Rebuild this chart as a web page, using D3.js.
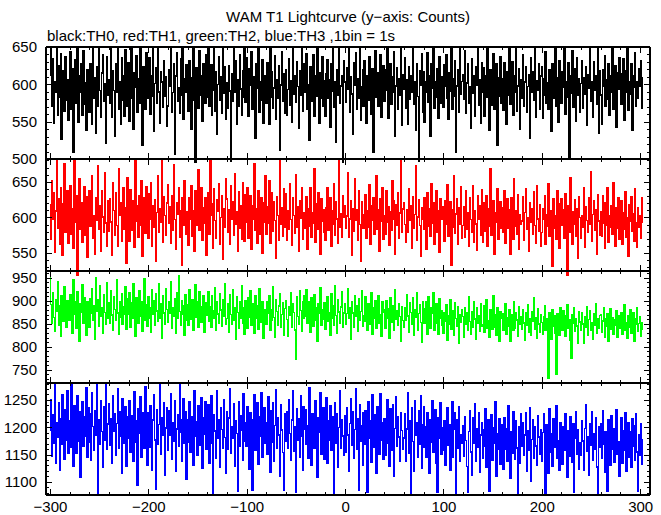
<!DOCTYPE html>
<html><head><meta charset="utf-8">
<script src="https://cdn.jsdelivr.net/npm/d3@7"></script>
<style>body{margin:0;background:#fff}</style>
</head><body><svg id="c" width="661" height="515"></svg>
<script>
// first bin time (s), 1 bin = 1 s
const timeStart = -300;

const th0 = [
612,655,571,634,548,603,590,668,559,625,583,641,527,596,618,564,637,579,606,552,
587,643,566,621,509,598,633,575,661,549,612,590,627,558,645,573,602,538,619,596,
562,628,594,547,652,581,609,534,623,570,687,592,556,615,640,578,601,521,637,585,
606,574,649,556,618,592,531,627,589,663,567,604,546,635,579,612,557,646,594,570,
629,551,603,677,582,540,615,596,638,563,607,574,655,588,519,624,599,566,642,581,
593,636,560,612,584,649,537,601,622,575,658,590,548,617,603,569,631,584,610,544,
571,620,598,655,563,589,628,507,611,642,577,596,561,634,585,672,553,608,590,626,
615,564,631,588,540,609,653,579,496,622,597,568,645,586,612,550,628,601,575,639,
583,647,570,604,626,558,592,681,564,617,533,600,637,579,610,561,648,588,624,553,
602,568,625,591,497,614,578,656,589,632,547,606,571,640,594,559,618,583,662,576,
636,590,557,621,599,644,566,610,585,528,627,595,650,563,604,579,633,548,612,589,
574,629,601,546,659,583,617,568,595,638,553,606,582,625,512,599,643,577,614,561,
620,558,593,634,572,605,549,666,587,611,576,630,597,541,618,585,653,564,603,627,
589,641,566,600,525,623,596,578,639,557,612,584,671,593,548,616,581,637,570,605,
557,614,633,582,606,543,627,591,648,569,603,522,619,585,657,574,598,611,495,632,
603,576,622,594,651,562,610,587,533,629,599,642,566,608,581,664,552,597,620,571,
631,586,548,612,579,637,598,560,621,509,606,645,583,616,570,594,639,556,602,625,
577,619,592,663,554,601,628,573,610,589,644,531,598,622,567,607,585,652,545,613,
594,635,568,606,547,624,580,612,590,656,573,603,539,627,584,497,618,599,641,562,
617,549,603,589,642,576,611,530,628,595,660,568,604,583,621,555,637,592,575,610,
569,626,598,639,582,553,616,591,674,566,607,584,632,509,598,620,563,649,587,604,
613,580,645,561,602,627,575,597,541,634,588,612,557,623,599,666,572,606,548,629,
590,622,557,611,583,650,596,538,619,572,604,641,566,593,627,519,609,584,637,575,
608,565,629,594,547,617,585,655,573,602,630,558,612,589,676,564,598,621,540,606,
582,640,571,603,624,562,597,613,528,635,590,617,579,648,556,605,592,627,567,611,
623,554,608,586,643,575,602,566,620,594,537,628,601,582,661,571,609,549,632,590,
575,617,596,652,560,604,583,629,501,612,588,645,569,598,621,551,636,585,607,563,
601,632,568,609,587,624,545,613,595,668,578,603,556,630,592,612,573,647,534,618,
586,547,620,597,638,571,606,580,627,559,611,589,653,567,600,625,543,615,594,636,
614,573,599,634,552,618,590,662,565,604,587,627,539,611,596,642,570,603,581,621,
597,632,568,609
];

const th1 = [
618,570,652,597,634,551,609,683,585,626,562,641,598,547,619,676,580,605,637,564,
599,645,576,612,557,688,593,630,518,608,654,583,620,566,602,643,575,629,544,611,
637,588,614,659,571,603,548,627,596,672,583,616,553,638,601,579,663,592,560,624,
581,626,594,547,649,610,575,635,589,559,668,603,621,567,598,642,584,613,536,656,
612,567,639,601,582,624,558,680,595,617,572,631,589,651,546,606,627,578,643,594,
571,633,598,649,560,616,587,625,539,607,659,580,612,594,685,566,629,603,575,620,
646,592,615,564,631,582,674,597,556,621,604,641,573,610,533,628,589,652,600,577,
608,561,627,598,645,574,610,553,637,589,619,667,582,603,641,568,614,592,628,547,
589,634,577,684,603,619,557,640,596,571,625,609,648,562,600,631,542,612,587,655,
626,580,611,563,645,598,622,575,661,591,608,553,636,585,617,570,649,600,567,632,
594,642,571,608,630,555,616,598,675,582,612,564,638,601,577,627,550,620,594,658,
577,615,592,651,564,606,635,581,622,596,543,629,603,568,686,590,613,574,640,587,
633,568,609,584,647,597,561,628,603,578,660,587,615,552,624,599,641,570,606,585,
601,629,556,612,588,642,573,606,592,669,565,619,583,634,598,549,626,595,611,579,
568,614,641,582,603,627,559,610,590,647,575,622,598,564,679,587,605,573,631,601,
617,585,602,663,572,598,624,547,612,581,655,596,611,568,637,590,539,622,604,585,
590,632,571,609,587,646,563,617,596,628,577,603,659,584,611,552,626,595,641,570,
602,576,637,594,615,561,608,582,652,597,624,548,618,589,634,571,606,684,580,612,
621,590,566,611,579,640,596,617,557,629,585,604,673,568,601,625,589,546,613,597,
583,627,601,556,635,588,612,574,648,592,620,563,604,638,579,609,551,626,597,615,
608,567,624,591,646,574,600,622,533,611,587,658,578,605,626,562,614,590,643,571,
589,615,572,637,583,606,560,628,597,580,645,566,609,591,554,631,598,617,575,639,
566,620,596,581,630,559,612,588,669,575,601,624,549,607,593,640,570,603,622,585,
613,580,638,564,602,626,585,611,548,627,596,570,655,588,609,577,632,556,604,591,
595,629,568,607,640,583,599,552,621,594,612,576,636,589,564,645,598,581,618,560,
579,612,597,630,563,604,588,647,574,610,593,531,626,585,602,569,637,597,557,619,
626,589,611,571,633,595,515,617,580,656,598,562,608,591,625,574,612,543,629,600,
571,603,586,641,558,615,596,579,627,590,664,567,604,624,582,611,548,632,595,575,
608,574,631,592,557,620,589,642,566,603,586,617,577,649,596,560,613,585,628,569,
590,623,563,607,584,636,572,599,546,618,595,629,581,605,567,640,592,558,614,586,
603,571,627,594
];

const th2 = [
960,892,851,918,864,834,903,877,942,846,889,823,912,868,855,931,880,842,901,873,
857,914,886,829,947,871,898,840,920,864,811,893,876,935,852,907,868,826,899,883,
842,905,873,926,858,889,817,951,878,902,845,933,867,884,829,913,875,850,940,862,
896,851,922,869,836,908,881,857,945,873,827,899,864,916,848,887,871,930,839,904,
870,918,843,895,861,937,876,823,906,885,852,921,866,898,834,879,949,857,891,845,
908,861,886,832,924,870,901,846,915,878,856,938,863,893,819,910,874,848,927,881,
853,897,872,941,840,884,866,905,829,918,863,955,877,846,900,870,889,824,913,858,
891,847,925,876,859,903,836,882,934,865,898,842,919,873,854,887,910,831,895,868,
874,920,855,888,843,911,879,862,929,837,897,871,852,916,880,845,902,866,938,849,
862,893,831,914,870,849,925,858,886,816,908,875,841,897,863,932,852,884,827,901,
885,840,906,865,921,847,878,893,829,912,861,890,838,926,872,854,898,818,881,866,
848,897,873,912,835,880,857,931,864,821,903,877,846,889,915,842,870,896,826,883,
901,859,823,888,868,917,843,894,875,836,773,909,866,850,921,879,834,898,862,911,
867,924,852,879,898,831,906,870,845,914,857,885,813,893,872,928,847,881,859,896,
838,881,909,855,873,826,915,862,890,847,933,868,829,902,876,851,887,920,842,874,
893,850,872,926,861,884,817,899,874,843,911,866,889,833,904,858,877,921,845,868,
855,908,869,836,894,873,850,917,828,885,862,900,841,878,912,852,869,823,897,881,
876,840,901,863,882,819,907,854,890,871,835,924,860,878,846,893,866,812,888,857,
843,885,858,914,867,832,896,875,849,906,824,880,864,917,837,872,891,853,810,899,
882,851,870,897,828,909,860,841,885,873,918,837,866,893,852,827,904,861,879,846,
829,874,856,892,815,867,848,903,838,879,859,826,895,862,844,887,808,870,853,881,
866,821,884,849,873,836,909,855,827,877,842,898,860,817,885,851,868,834,893,845,
847,889,832,865,902,840,856,821,880,859,838,911,843,869,826,884,852,813,876,861,
871,835,858,893,827,864,845,881,812,869,852,836,897,841,873,858,823,888,848,866,
839,880,852,815,873,846,891,832,860,824,877,855,906,838,864,819,882,850,831,870,
853,827,866,889,835,862,842,732,874,851,816,880,845,868,829,740,871,857,824,886,
862,835,879,848,822,867,892,840,858,814,776,869,851,884,833,861,845,807,876,854,
837,873,849,808,866,843,887,826,859,878,835,852,817,871,846,893,830,862,841,868,
870,832,856,884,821,861,845,872,813,850,883,838,864,827,859,846,879,820,867,841,
845,874,827,860,891,836,853,818,868,842,880,829,857,873,811,862,848,885,834,851,
866,823,852,839
];

const th3 = [
1195,1251,1147,1223,1170,1278,1134,1209,1182,1245,1121,1216,1168,1260,1189,1141,1232,1177,1266,1153,
1211,1163,1289,1187,1129,1240,1198,1152,1257,1175,1228,1109,1204,1247,1166,1219,1184,1272,1145,1236,
1172,1225,1139,1263,1201,1157,1230,1185,1280,1080,1214,1169,1248,1192,1126,1237,1176,1285,1159,1206,
1243,1167,1215,1134,1258,1193,1224,1148,1207,1271,1162,1229,1183,1116,1252,1196,1170,1238,1128,1219,
1180,1249,1155,1221,1197,1138,1265,1173,1212,1094,1234,1189,1256,1145,1203,1227,1161,1275,1186,1131,
1226,1164,1240,1191,1122,1213,1259,1177,1086,1232,1168,1205,1281,1150,1218,1185,1244,1112,1199,1236,
1158,1231,1186,1262,1141,1208,1175,1249,1119,1197,1222,1165,1277,1190,1137,1214,1253,1170,1228,1105,
1213,1173,1246,1154,1220,1195,1131,1267,1183,1210,1148,1239,1202,1167,1254,1125,1217,1188,1246,1160,
1187,1242,1135,1205,1258,1171,1078,1223,1193,1144,1266,1179,1213,1126,1235,1196,1162,1251,1181,1115,
1229,1160,1217,1270,1152,1201,1180,1243,1128,1212,1189,1082,1247,1166,1221,1194,1139,1261,1175,1208,
1166,1238,1191,1124,1227,1178,1085,1214,1259,1157,1198,1245,1132,1219,1183,1264,1146,1206,1236,1171,
1209,1150,1256,1193,1117,1230,1172,1245,1137,1203,1269,1161,1218,1186,1111,1241,1195,1154,1085,1224,
1175,1228,1162,1250,1189,1140,1213,1267,1156,1201,1081,1234,1177,1216,1145,1258,1183,1122,1238,1196,
1232,1168,1203,1144,1272,1185,1130,1225,1199,1161,1248,1179,1108,1217,1190,1263,1151,1207,1236,1142,
1188,1254,1135,1211,1176,1239,1158,1220,1193,1078,1245,1170,1224,1127,1200,1266,1161,1213,1184,1148,
1221,1154,1235,1186,1119,1207,1252,1167,1228,1143,1196,1271,1159,1215,1084,1241,1175,1203,1131,1227,
1169,1230,1192,1081,1246,1179,1212,1136,1259,1163,1222,1187,1115,1238,1197,1150,1262,1176,1208,1141,
1216,1148,1205,1251,1171,1128,1233,1189,1157,1242,1110,1198,1255,1165,1219,1182,1137,1227,1194,1160,
1180,1224,1138,1197,1263,1152,1211,1080,1236,1174,1119,1248,1185,1209,1146,1231,1168,1257,1125,1204,
1237,1163,1201,1145,1226,1189,1116,1214,1172,1249,1155,1193,1232,1134,1081,1218,1179,1244,1150,1199,
1158,1211,1131,1190,1235,1167,1204,1122,1183,1247,1145,1196,1226,1078,1213,1162,1238,1138,1187,1171,
1203,1147,1220,1176,1128,1081,1192,1231,1155,1112,1217,1170,1243,1137,1198,1164,1226,1118,1186,1209,
1143,1196,1165,1234,1126,1181,1213,1082,1157,1222,1139,1200,1171,1247,1110,1189,1159,1216,1132,1205,
1179,1124,1218,1160,1197,1137,1239,1168,1106,1192,1153,1229,1174,1141,1212,1162,1079,1201,1135,1224,
1165,1208,1148,1186,1227,1120,1194,1157,1236,1101,1178,1213,1144,1201,1166,1130,1221,1182,1150,1196,
1138,1190,1224,1161,1079,1205,1171,1116,1233,1155,1188,1129,1215,1164,1197,1240,1143,1176,1121,1209,
1185,1132,1201,1157,1225,1170,1108,1193,1147,1219,1163,1136,1207,1081,1180,1229,1151,1195,1124,1172,
1149,1212,1175,1122,1198,1241,1156,1183,1113,1206,1167,1228,1140,1189,1159,1217,1127,1080,1201,1164,
1207,1144,1230,1169,1118,1192,1153,1082,1214,1176,1131,1221,1160,1197,1136,1185,1232,1150,1174,1110,
1171,1218,1135,1194,1158,1226,1120,1180,1209,1145,1191,1127,1215,1166,1203,1139,1224,1155,1082,1187,
1148,1206,1133,1178
];

const seriesNames = ["TH0","TH1","TH2","TH3"];
const seriesColors = ["#000000","#ff0000","#00ff00","#0000ff"];
const yDomains = [[500,650],[525,682],[721,965],[1076,1281]];
const yTickLabels = [[500,550,600,650],[550,600,650],[750,800,850,900,950],[1100,1150,1200,1250]];
const xDomain = [-304,310];
const xTickLabels = [-300,-200,-100,0,100,200,300];
const titleText = "WAM T1 Lightcurve (y\u2212axis: Counts)";
const subtitleText = "black:TH0, red:TH1, green:TH2, blue:TH3 ,1bin = 1s";

const svg = d3.select("#c");
const W = 661, H = 515;
const left = 46, right = 650;
const bounds = [47, 159, 271, 383, 495];
const FONT = "'Liberation Sans', Arial, Helvetica, sans-serif";

svg.append("rect").attr("width", W).attr("height", H).attr("fill", "#fff");

const x = d3.scaleLinear().domain(xDomain).range([left, right]);
const xMajor = d3.range(-300, 301, 100);
const xMinor = d3.range(-300, 311, 20).filter(v => v % 100 !== 0);

const allSeries = [th0, th1, th2, th3];

allSeries.forEach((vals, i) => {
  const y0 = bounds[i], y1 = bounds[i + 1];
  const y = d3.scaleLinear().domain(yDomains[i]).range([y1, y0]);

  const clipId = "clip" + i;
  svg.append("clipPath").attr("id", clipId)
    .append("rect").attr("x", left).attr("y", y0)
    .attr("width", right - left).attr("height", y1 - y0 + 5);

  const line = d3.line()
    .x((d, j) => x(timeStart + j))
    .y(d => y(d))
    .curve(d3.curveStep);

  svg.append("path")
    .attr("d", line(vals))
    .attr("fill", "none")
    .attr("stroke", seriesColors[i])
    .attr("stroke-width", 1.5)
    .attr("shape-rendering", "crispEdges")
    .attr("clip-path", `url(#${clipId})`);

  const [dlo, dhi] = yDomains[i];
  const yMinor = d3.range(Math.ceil(dlo / 10) * 10, dhi + 0.01, 10).filter(v => v % 50 !== 0);
  const yMajor = d3.range(Math.ceil(dlo / 50) * 50, dhi + 0.01, 50);

  const axStyle = g => {
    g.select(".domain").remove();
    g.attr("font-family", FONT).attr("font-size", 15);
    g.selectAll("line").attr("shape-rendering", "crispEdges");
    g.selectAll("text").attr("fill", "#000");
  };

  svg.append("g").attr("transform", `translate(${left},0)`)
    .call(d3.axisLeft(y).tickValues(yMinor).tickSize(-3).tickFormat("")).call(axStyle);
  svg.append("g").attr("transform", `translate(${left},0)`)
    .call(d3.axisLeft(y).tickValues(yMajor).tickSize(-6).tickFormat("")).call(axStyle);
  svg.append("g").attr("transform", `translate(${left},0)`)
    .call(d3.axisLeft(y).tickValues(yTickLabels[i]).tickSize(0).tickPadding(9).tickFormat(d3.format("d"))).call(axStyle);
  svg.append("g").attr("transform", `translate(${right},0)`)
    .call(d3.axisRight(y).tickValues(yMinor).tickSize(-3).tickFormat("")).call(axStyle);
  svg.append("g").attr("transform", `translate(${right},0)`)
    .call(d3.axisRight(y).tickValues(yMajor).tickSize(-6).tickFormat("")).call(axStyle);
  svg.append("g").attr("transform", `translate(0,${y0})`)
    .call(d3.axisTop(x).tickValues(xMinor).tickSize(-3).tickFormat("")).call(axStyle);
  svg.append("g").attr("transform", `translate(0,${y0})`)
    .call(d3.axisTop(x).tickValues(xMajor).tickSize(-6).tickFormat("")).call(axStyle);
  svg.append("g").attr("transform", `translate(0,${y1})`)
    .call(d3.axisBottom(x).tickValues(xMinor).tickSize(-3).tickFormat("")).call(axStyle);
  svg.append("g").attr("transform", `translate(0,${y1})`)
    .call(d3.axisBottom(x).tickValues(xMajor).tickSize(-6).tickFormat("")).call(axStyle);
  if (i === allSeries.length - 1) {
    svg.append("g").attr("transform", `translate(0,${y1})`)
      .call(d3.axisBottom(x).tickValues(xTickLabels).tickSize(0).tickPadding(6)).call(axStyle);
  }
});

const frame = svg.append("g").attr("stroke", "#000").attr("stroke-width", 2).attr("fill", "none")
  .attr("shape-rendering", "crispEdges");
frame.append("line").attr("x1", left).attr("x2", left).attr("y1", bounds[0]).attr("y2", bounds[4]);
frame.append("line").attr("x1", right).attr("x2", right).attr("y1", bounds[0]).attr("y2", bounds[4]);
bounds.forEach(b => frame.append("line").attr("x1", left).attr("x2", right).attr("y1", b).attr("y2", b));

svg.append("text").attr("x", (left + right) / 2).attr("y", 22)
  .attr("text-anchor", "middle").attr("font-family", FONT).attr("font-size", 15).text(titleText);
svg.append("text").attr("x", 47).attr("y", 41)
  .attr("font-family", FONT).attr("font-size", 15).text(subtitleText);
</script>
</body></html>
